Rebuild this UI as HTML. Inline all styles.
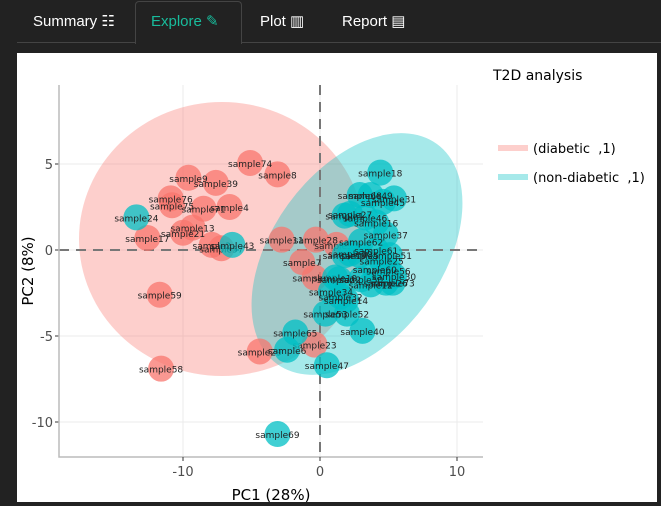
<!DOCTYPE html>
<html><head><meta charset="utf-8"><style>
body{margin:0;width:661px;height:506px;background:#222;overflow:hidden;font-family:"DejaVu Sans","Liberation Sans",sans-serif;}
.tab{position:absolute;top:12px;font-size:15px;color:#fff;font-family:"Liberation Sans",sans-serif;}
</style></head><body>
<div style="position:absolute;left:17px;top:42px;width:644px;height:1px;background:#444"></div>
<div style="position:absolute;left:135px;top:1px;width:105px;height:42px;border:1px solid #444;border-bottom:none;border-radius:4px 4px 0 0;background:#222"></div>
<div class="tab" style="left:33px">Summary ☷</div>
<div class="tab" style="left:151px;color:#18bc9c">Explore ✎</div>
<div class="tab" style="left:260px">Plot ▥</div>
<div class="tab" style="left:342px">Report ▤</div>
<div style="position:absolute;left:17px;top:53px;width:640px;height:449px;background:#fff"></div>
<svg id="c" width="661" height="506" style="position:absolute;left:0;top:0"></svg>
<script>
const xTicks=[-10,0,10];
const yTicks=[5,0,-5,-10];
const redNames=["sample74","sample8","sample9","sample39","sample76","sample75","sample71","sample4","sample13","sample21","sample17","sample2","sample57","sample11","sample28","sample7","sample35","sample59","sample58","sample29","sample23","sample33"];
const redX=[-5.1,-3.1,-9.6,-7.6,-10.9,-10.8,-8.5,-6.6,-9.3,-10,-12.6,-7.9,-7.2,-2.8,-0.3,-1.3,-0.4,-11.7,-11.6,-4.4,-0.4,1.2];
const redY=[5.06,4.4,4.2,3.9,3.0,2.6,2.4,2.5,1.3,1.0,0.7,0.3,0.1,0.6,0.6,-0.7,-1.6,-2.6,-6.9,-5.9,-5.5,0.3];
const tealNames=["sample24","sample43","sample69","sample47","sample6","sample65","sample53","sample52","sample40","sample32","sample14","sample10","sample18","sample68","sample49","sample45","sample31","sample27","sample46","sample16","sample37","sample1","sample62","sample61","sample51","sample25","sample19","sample5","sample56","sample30","sample73","sample50","sample12","sample26","sample20","sample60","sample22","sample34"];
const tealX=[-13.4,-6.4,-3.1,0.5,-2.4,-1.8,0.4,1.97,3.1,1.5,1.9,1.1,4.4,2.9,3.7,4.6,5.4,2.2,3.3,4.1,4.8,1.8,3.0,4.1,5.1,4.5,1.8,2.9,5.0,5.4,5.3,3.0,3.7,4.8,2.2,4.0,1.4,0.8];
const tealY=[1.9,0.3,-10.7,-6.7,-5.8,-4.8,-3.7,-3.7,-4.7,-2.7,-2.9,-1.6,4.5,3.2,3.2,2.8,3.0,2.1,1.9,1.6,0.9,2.0,0.5,0.0,-0.3,-0.6,-0.3,-0.3,-1.2,-1.5,-1.9,-1.7,-2.0,-1.9,-0.2,-1.1,-1.7,-2.4];
const NS="http://www.w3.org/2000/svg",svg=document.getElementById('c');
const L=59,R=483,T=85,B=457;
const sx=v=>320+v*13.7, sy=v=>250-v*17.2;
function mk(t,a,p){const e=document.createElementNS(NS,t);for(const k in a)e.setAttribute(k,a[k]);(p||svg).appendChild(e);return e;}
const cp=mk('clipPath',{id:'cl'});mk('rect',{x:L,y:T,width:R-L,height:B-T},cp);
xTicks.forEach(v=>{const g=mk('line',{x1:sx(v),x2:sx(v),y1:T,y2:B,stroke:'#ebebeb','stroke-width':1});

const t=mk('text',{x:sx(v),y:B+19,'text-anchor':'middle','font-size':13,fill:'#4d4d4d'});t.textContent=v;
});
yTicks.forEach(v=>{const g=mk('line',{x1:L,x2:R,y1:sy(v),y2:sy(v),stroke:'#ebebeb','stroke-width':1});

mk('line',{x1:L-4,x2:L,y1:sy(v),y2:sy(v),stroke:'#333'});
const t=mk('text',{x:L-6,y:sy(v)+5,'text-anchor':'end','font-size':13,fill:'#4d4d4d'});t.textContent=v;
});
const g=mk('g',{'clip-path':'url(#cl)'});
const e1=mk('ellipse',{cx:222,cy:239,rx:143,ry:137,fill:'#F8766D','fill-opacity':0.35},g);

const e2=mk('ellipse',{cx:357,cy:254,rx:136,ry:85,transform:'rotate(-54 357 254)',fill:'#00BFC4','fill-opacity':0.35},g);

mk('line',{x1:L,x2:R,y1:sy(0),y2:sy(0),stroke:'#777','stroke-width':2,'stroke-dasharray':'10 7'},g);
mk('line',{x1:sx(0),x2:sx(0),y1:T,y2:B,stroke:'#777','stroke-width':2,'stroke-dasharray':'10 7'},g);
function pts(names,xs,ys,col,nm){names.forEach((n,i)=>{const c=mk('circle',{cx:sx(xs[i]),cy:sy(ys[i]),r:13,fill:col,'fill-opacity':0.75},g);
});
names.forEach((n,i)=>{const t=mk('text',{x:sx(xs[i]),y:sy(ys[i])+4,'text-anchor':'middle','font-size':9,fill:'#222'},g);t.textContent=n;
});}
pts(redNames,redX,redY,'#F8766D','diabetic-point');
pts(tealNames,tealX,tealY,'#00BFC4','non-diabetic-point');
mk('path',{d:`M${L} ${T}V${B}H${R}`,fill:'none',stroke:'#bbb','stroke-width':1.5});
xTicks.forEach(v=>mk('line',{x1:sx(v),x2:sx(v),y1:B,y2:B+4,stroke:'#333'}));
let t=mk('text',{x:271,y:500,'text-anchor':'middle','font-size':15,fill:'#000'});t.textContent='PC1 (28%)';

t=mk('text',{x:0,y:0,'text-anchor':'middle','font-size':15,fill:'#000',transform:'translate(33 271) rotate(-90)'});t.textContent='PC2 (8%)';

t=mk('text',{x:493,y:80,'font-size':14,fill:'#000'});t.textContent='T2D analysis';

[['(diabetic\u00a0\u00a0,1)','#F8766D',148],['(non-diabetic\u00a0\u00a0,1)','#00BFC4',177]].forEach(([s,c,y])=>{
const r=mk('rect',{x:498,y:y-3,width:30,height:6,fill:c,'fill-opacity':0.35});

const tt=mk('text',{x:533,y:y+5,'font-size':13,fill:'#000'});tt.textContent=s;
});
</script>
</body></html>
